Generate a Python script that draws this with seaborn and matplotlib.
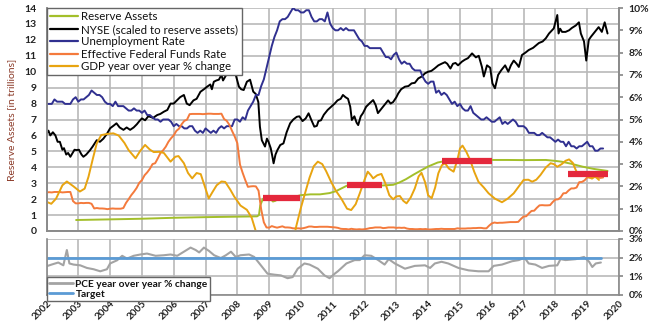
import numpy as np
import pandas as pd
import matplotlib
matplotlib.use("Agg")
import matplotlib.pyplot as plt
from matplotlib.lines import Line2D
import seaborn as sns

# ---------------- data ----------------
year_ticks = list(range(2002, 2021))

# monthly series, Jan 2002 onward
unemployment_pct = [
    5.7, 5.7, 5.7, 5.9, 5.8, 5.8, 5.8, 5.7, 5.7, 5.7, 5.9, 6.0,
    5.8, 5.9, 5.9, 6.0, 6.1, 6.3, 6.2, 6.1, 6.1, 6.0, 5.8, 5.7,
    5.7, 5.6, 5.8, 5.6, 5.6, 5.6, 5.5, 5.4, 5.4, 5.5, 5.4, 5.4,
    5.3, 5.4, 5.2, 5.2, 5.1, 5.0, 5.0, 4.9, 5.0, 5.0, 5.0, 4.9,
    4.7, 4.8, 4.7, 4.7, 4.6, 4.6, 4.7, 4.7, 4.5, 4.4, 4.5, 4.4,
    4.6, 4.5, 4.4, 4.5, 4.4, 4.6, 4.7, 4.6, 4.7, 4.7, 4.7, 5.0,
    5.0, 4.9, 5.1, 5.0, 5.4, 5.6, 5.8, 6.1, 6.1, 6.5, 6.8, 7.3,
    7.8, 8.3, 8.7, 9.0, 9.4, 9.5, 9.5, 9.6, 9.8, 10.0, 9.9, 9.9,
    9.8, 9.8, 9.9, 9.9, 9.6, 9.4, 9.4, 9.5, 9.5, 9.4, 9.8, 9.3,
    9.1, 9.0, 9.0, 9.1, 9.0, 9.1, 9.0, 9.0, 9.0, 8.8, 8.6, 8.5,
    8.3, 8.3, 8.2, 8.2, 8.2, 8.2, 8.2, 8.0, 7.8, 7.8, 7.7, 7.9,
    8.0, 7.7, 7.5, 7.6, 7.5, 7.5, 7.3, 7.2, 7.2, 7.2, 6.9, 6.7,
    6.6, 6.7, 6.7, 6.2, 6.3, 6.1, 6.2, 6.1, 5.9, 5.7, 5.8, 5.6,
    5.7, 5.5, 5.4, 5.4, 5.6, 5.3, 5.2, 5.1, 5.0, 5.0, 5.1, 5.0,
    4.9, 4.9, 5.0, 5.1, 4.8, 4.9, 4.8, 4.9, 5.0, 4.9, 4.7, 4.7,
    4.7, 4.6, 4.4, 4.4, 4.4, 4.3, 4.3, 4.4, 4.3, 4.2, 4.2, 4.1,
    4.0, 4.1, 4.0, 4.0, 3.8, 4.0, 3.8, 3.8, 3.7, 3.8, 3.8, 3.9,
    4.0, 3.8, 3.8, 3.6, 3.6, 3.7, 3.7,
]

fed_funds_pct = [
    1.73, 1.74, 1.73, 1.75, 1.75, 1.75, 1.73, 1.74, 1.75, 1.75, 1.34, 1.24,
    1.24, 1.26, 1.25, 1.26, 1.26, 1.22, 1.01, 1.03, 1.01, 1.01, 1.00, 0.98,
    1.00, 1.01, 1.00, 1.00, 1.00, 1.03, 1.26, 1.43, 1.61, 1.76, 1.93, 2.16,
    2.28, 2.50, 2.63, 2.79, 3.00, 3.04, 3.26, 3.50, 3.62, 3.78, 4.00, 4.16,
    4.29, 4.49, 4.59, 4.79, 4.94, 4.99, 5.24, 5.25, 5.25, 5.25, 5.25, 5.24,
    5.25, 5.26, 5.26, 5.25, 5.25, 5.25, 5.26, 5.02, 4.94, 4.76, 4.49, 4.24,
    3.94, 2.98, 2.61, 2.28, 1.98, 2.00, 2.01, 2.00, 1.81, 0.97, 0.39, 0.16,
    0.15, 0.22, 0.18, 0.15, 0.18, 0.21, 0.16, 0.16, 0.15, 0.12, 0.12, 0.12,
    0.11, 0.13, 0.16, 0.20, 0.20, 0.18, 0.18, 0.19, 0.19, 0.19, 0.19, 0.18,
    0.17, 0.16, 0.14, 0.10, 0.09, 0.09, 0.07, 0.10, 0.08, 0.07, 0.08, 0.07,
    0.08, 0.10, 0.13, 0.14, 0.16, 0.16, 0.16, 0.13, 0.14, 0.16, 0.16, 0.16,
    0.14, 0.15, 0.14, 0.15, 0.11, 0.09, 0.09, 0.08, 0.08, 0.09, 0.08, 0.09,
    0.07, 0.07, 0.08, 0.09, 0.09, 0.10, 0.09, 0.09, 0.09, 0.09, 0.09, 0.12,
    0.11, 0.11, 0.11, 0.12, 0.12, 0.13, 0.13, 0.14, 0.14, 0.12, 0.12, 0.24,
    0.34, 0.38, 0.36, 0.37, 0.37, 0.38, 0.39, 0.40, 0.40, 0.40, 0.41, 0.54,
    0.65, 0.66, 0.79, 0.90, 0.91, 1.04, 1.15, 1.16, 1.15, 1.15, 1.16, 1.30,
    1.41, 1.42, 1.51, 1.69, 1.70, 1.82, 1.91, 1.91, 1.95, 2.19, 2.20, 2.27,
    2.40, 2.40, 2.41, 2.42, 2.39, 2.38, 2.40,
]

reserve_years = [2002.93, 2004.0, 2005.0, 2006.0, 2007.0, 2008.0, 2008.62, 2008.68,
                 2008.72, 2008.8, 2008.9, 2008.97, 2009.05, 2009.12, 2009.2, 2009.3,
                 2009.45, 2009.6, 2009.8, 2010.0, 2010.3, 2010.6, 2010.9, 2011.1,
                 2011.3, 2011.45, 2011.7, 2012.0, 2012.5, 2012.9, 2013.1, 2013.3,
                 2013.55, 2013.8, 2014.0, 2014.3, 2014.6, 2014.9, 2015.5, 2016.0,
                 2016.5, 2017.0, 2017.7, 2018.0, 2018.2, 2018.5, 2018.85, 2019.2, 2019.64]
reserve_tn = [0.69, 0.73, 0.77, 0.83, 0.87, 0.90, 0.92, 1.0,
              1.6, 2.0, 2.2, 2.2, 2.0, 1.85, 1.9, 2.05,
              2.05, 2.1, 2.15, 2.25, 2.3, 2.3, 2.38, 2.5,
              2.7, 2.85, 2.85, 2.9, 2.85, 2.9, 3.05, 3.25,
              3.55, 3.83, 4.05, 4.3, 4.42, 4.47, 4.47, 4.46,
              4.46, 4.45, 4.46, 4.4, 4.35, 4.22, 4.04, 3.9, 3.77]

nyse_years = [
    2002.0, 2002.06, 2002.12, 2002.2, 2002.28, 2002.35, 2002.42, 2002.5, 2002.55, 2002.62,
    2002.68, 2002.75, 2002.82, 2002.88, 2002.95, 2003.02, 2003.1, 2003.16, 2003.25, 2003.37,
    2003.45, 2003.58, 2003.68, 2003.79, 2003.9, 2004.0, 2004.1, 2004.2, 2004.3, 2004.42,
    2004.52, 2004.63, 2004.74, 2004.84, 2004.92, 2005.0, 2005.1, 2005.2, 2005.26, 2005.35,
    2005.48, 2005.58, 2005.69, 2005.8, 2005.9, 2006.0, 2006.11, 2006.2, 2006.32, 2006.41,
    2006.5, 2006.62, 2006.72, 2006.84, 2006.95, 2007.05, 2007.15, 2007.2, 2007.26, 2007.34,
    2007.42, 2007.5, 2007.55, 2007.62, 2007.68, 2007.75, 2007.82, 2007.88, 2007.95, 2008.05,
    2008.12, 2008.2, 2008.3, 2008.4, 2008.5, 2008.58, 2008.66, 2008.71, 2008.77, 2008.82,
    2008.87, 2008.93, 2008.98, 2009.05, 2009.1, 2009.14, 2009.2, 2009.26, 2009.35, 2009.45,
    2009.55, 2009.66, 2009.76, 2009.87, 2009.95, 2010.05, 2010.15, 2010.24, 2010.32, 2010.42,
    2010.5, 2010.55, 2010.63, 2010.72, 2010.84, 2010.95, 2011.06, 2011.15, 2011.25, 2011.32,
    2011.4, 2011.48, 2011.55, 2011.6, 2011.68, 2011.75, 2011.8, 2011.88, 2011.95, 2012.05,
    2012.15, 2012.27, 2012.35, 2012.42, 2012.5, 2012.58, 2012.66, 2012.74, 2012.82, 2012.9,
    2013.0, 2013.06, 2013.15, 2013.27, 2013.38, 2013.48, 2013.58, 2013.69, 2013.8, 2013.9,
    2014.0, 2014.1, 2014.2, 2014.32, 2014.42, 2014.53, 2014.6, 2014.7, 2014.78, 2014.86,
    2014.94, 2015.06, 2015.15, 2015.25, 2015.38, 2015.5, 2015.59, 2015.69, 2015.75, 2015.85,
    2015.95, 2016.02, 2016.1, 2016.2, 2016.3, 2016.42, 2016.52, 2016.6, 2016.69, 2016.78,
    2016.85, 2016.95, 2017.06, 2017.16, 2017.3, 2017.48, 2017.6, 2017.7, 2017.8, 2017.95,
    2018.06, 2018.1, 2018.15, 2018.21, 2018.32, 2018.43, 2018.52, 2018.64, 2018.74, 2018.8,
    2018.86, 2018.9, 2018.97, 2019.05, 2019.12, 2019.2, 2019.28, 2019.36, 2019.46, 2019.55,
    2019.6, 2019.64,
]
nyse_tn = [
    6.1, 6.3, 6.0, 6.2, 6.0, 5.6, 5.6, 5.1, 5.2, 4.8,
    4.9, 4.66, 4.9, 5.1, 5.08, 5.1, 4.8, 4.66, 4.8, 5.08,
    5.3, 5.7, 5.6, 5.8, 6.1, 6.45, 6.6, 6.76, 6.5, 6.35,
    6.5, 6.35, 6.5, 6.7, 6.9, 7.07, 6.95, 7.2, 7.17, 7.1,
    7.28, 7.35, 7.49, 7.6, 8.0, 8.0, 8.22, 8.4, 8.54, 8.0,
    7.9, 8.2, 8.3, 8.74, 8.9, 9.06, 9.2, 8.9, 9.37, 9.45,
    9.5, 9.8, 9.45, 9.69, 9.9, 9.8, 10.3, 9.95, 9.8, 9.06,
    8.9, 8.85, 9.37, 9.5, 8.75, 8.6, 8.1, 6.55, 5.7, 5.5,
    5.3, 5.8, 5.6, 5.2, 4.7, 4.25, 4.8, 5.08, 5.4, 5.5,
    6.2, 6.76, 7.0, 7.17, 7.2, 6.9, 7.07, 7.39, 7.0, 6.55,
    6.6, 6.9, 6.95, 7.3, 7.6, 7.8, 8.0, 8.2, 8.3, 8.54,
    8.4, 8.3, 7.8, 6.97, 7.2, 6.8, 6.65, 7.2, 7.4, 7.8,
    8.0, 8.22, 7.9, 7.4, 7.6, 7.8, 8.0, 8.2, 8.0, 8.1,
    8.4, 8.64, 8.9, 9.06, 9.1, 9.27, 9.3, 9.58, 9.7, 9.9,
    10.0, 10.05, 10.2, 10.4, 10.5, 10.6, 10.5, 10.2, 10.5, 10.55,
    10.4, 10.63, 10.75, 10.85, 11.15, 10.9, 11.0, 10.3, 9.7, 10.4,
    10.25, 9.27, 8.96, 9.8, 10.1, 10.4, 10.0, 10.4, 10.7, 10.5,
    10.3, 11.05, 11.2, 11.36, 11.5, 11.8, 11.9, 12.1, 12.4, 12.72,
    13.56, 12.4, 12.7, 12.5, 12.5, 12.6, 12.75, 12.9, 13.1, 12.4,
    12.1, 11.9, 10.7, 12.0, 12.2, 12.4, 12.6, 12.8, 12.5, 13.1,
    12.7, 12.4,
]

gdp_years = [
    2002.0, 2002.15, 2002.3, 2002.5, 2002.64, 2002.85, 2003.05, 2003.2, 2003.32, 2003.45,
    2003.58, 2003.72, 2003.9, 2004.1, 2004.27, 2004.45, 2004.58, 2004.8, 2004.95, 2005.1,
    2005.25, 2005.37, 2005.55, 2005.69, 2005.9, 2006.05, 2006.15, 2006.32, 2006.45, 2006.58,
    2006.72, 2006.85, 2007.0, 2007.1, 2007.22, 2007.35, 2007.5, 2007.62, 2007.78, 2007.9,
    2008.1, 2008.3, 2008.45, 2008.6, 2008.8, 2009.0, 2009.3, 2009.55, 2009.75, 2009.85,
    2010.0, 2010.15, 2010.27, 2010.4, 2010.53, 2010.67, 2010.79, 2010.95, 2011.1, 2011.27,
    2011.45, 2011.58, 2011.72, 2011.85, 2012.0, 2012.1, 2012.2, 2012.27, 2012.4, 2012.53,
    2012.65, 2012.78, 2012.9, 2013.0, 2013.11, 2013.22, 2013.32, 2013.45, 2013.58, 2013.7,
    2013.79, 2013.9, 2014.0, 2014.11, 2014.22, 2014.32, 2014.43, 2014.53, 2014.65, 2014.8,
    2014.92, 2015.0, 2015.08, 2015.2, 2015.32, 2015.45, 2015.58, 2015.75, 2015.9, 2016.1,
    2016.32, 2016.5, 2016.69, 2016.85, 2017.0, 2017.15, 2017.27, 2017.4, 2017.53, 2017.7,
    2017.85, 2017.95, 2018.06, 2018.2, 2018.32, 2018.43, 2018.55, 2018.62, 2018.69, 2018.8,
    2019.0, 2019.15, 2019.25, 2019.37,
]
gdp_pct = [
    1.31, 1.22, 1.45, 2.05, 2.22, 2.0, 1.77, 1.9, 2.43, 3.2,
    3.93, 4.3, 4.35, 4.38, 4.28, 3.95, 3.63, 3.26, 3.6, 3.86,
    3.65, 3.54, 3.55, 3.5, 3.11, 3.33, 3.36, 3.04, 2.6, 2.36,
    2.6, 2.55, 1.9, 1.46, 1.75, 2.05, 2.22, 2.2, 1.85, 1.55,
    1.14, 0.95, 0.6, -0.1, -1.5, -3.0, -4.0, -3.2, -0.5, 0.2,
    1.05, 1.8, 2.39, 2.9, 3.11, 3.0, 2.69, 2.2, 1.8, 1.45,
    1.0, 0.94, 1.2, 1.69, 2.3, 2.66, 2.5, 2.36, 2.5, 2.56,
    2.15, 1.6, 1.42, 1.55, 1.57, 1.35, 1.24, 1.5, 1.91, 2.45,
    2.61, 2.2, 1.6, 1.47, 1.95, 2.59, 2.95, 3.04, 2.8, 2.66,
    3.2, 3.7, 3.83, 3.55, 3.18, 2.65, 2.21, 1.95, 1.69, 1.45,
    1.29, 1.45, 1.69, 2.0, 2.29, 2.3, 2.21, 2.3, 2.51, 2.85,
    3.04, 3.0, 2.88, 3.0, 3.15, 3.21, 3.05, 2.8, 2.59, 2.5,
    2.45, 2.35, 2.45, 2.29,
]

bar_start = [2008.8, 2011.46, 2014.42, 2018.4]
bar_end = [2009.97, 2012.55, 2016.0, 2019.64]
bar_pct = [1.47, 2.06, 3.14, 2.56]

pce_years = [
    2002.0, 2002.16, 2002.37, 2002.53, 2002.64, 2002.72, 2002.85, 2003.06, 2003.27, 2003.48,
    2003.69, 2003.9, 2004.0, 2004.22, 2004.38, 2004.53, 2004.74, 2004.95, 2005.16, 2005.43,
    2005.69, 2005.9, 2006.11, 2006.32, 2006.53, 2006.69, 2006.8, 2006.95, 2007.11, 2007.27,
    2007.48, 2007.64, 2007.8, 2007.95, 2008.1, 2008.37, 2008.53, 2008.74, 2008.95, 2009.16,
    2009.37, 2009.58, 2009.74, 2009.9, 2010.11, 2010.27, 2010.53, 2010.74, 2010.9, 2011.06,
    2011.16, 2011.43, 2011.69, 2011.85, 2012.0, 2012.21, 2012.43, 2012.63, 2012.76, 2012.95,
    2013.27, 2013.58, 2013.9, 2014.06, 2014.21, 2014.42, 2014.63, 2014.95, 2015.27, 2015.58,
    2015.9, 2016.06, 2016.32, 2016.64, 2016.85, 2017.03, 2017.16, 2017.37, 2017.58, 2017.8,
    2018.06, 2018.16, 2018.32, 2018.64, 2018.9, 2019.06, 2019.16, 2019.27, 2019.43,
]
pce_pct = [
    1.54, 1.63, 1.74, 1.59, 2.41, 1.69, 1.63, 1.59, 1.45, 1.38,
    1.27, 1.38, 1.69, 1.86, 2.1, 1.95, 2.1, 2.17, 2.22, 2.1,
    2.13, 2.17, 2.1, 2.32, 2.54, 2.41, 2.28, 2.54, 2.36, 2.13,
    1.98, 2.13, 2.32, 2.04, 2.13, 2.17, 2.04, 1.59, 1.14, 1.09,
    1.05, 0.9, 0.96, 1.41, 1.69, 1.63, 1.41, 1.05, 0.9, 1.14,
    1.27, 1.69, 1.87, 1.87, 2.13, 2.1, 1.87, 1.63, 1.92, 1.69,
    1.41, 1.56, 1.59, 1.45, 1.69, 1.78, 1.69, 1.45, 1.32, 1.27,
    1.27, 1.56, 1.63, 1.81, 1.87, 2.0, 1.69, 1.63, 1.45, 1.56,
    1.59, 1.92, 1.87, 1.92, 2.04, 1.78, 1.5, 1.69, 1.74,
]

target_years = [2002.0, 2019.43]
target_pct = [2.0, 2.0]

labels_top = ["Reserve Assets", "NYSE (scaled to reserve assets)", "Unemployment Rate",
              "Effective Federal Funds Rate", "GDP year over year % change"]
labels_bottom = ["PCE year over year % change", "Target"]

# ---------------- style ----------------
GREEN = "#a3bf2a"
BLACK = "#000000"
NAVY = "#303090"
ORANGE = "#f47a3c"
GOLD = "#e8a410"
RED = "#e4283c"
GREY = "#a3a3a3"
BLUE = "#5b9bd5"
GRID = "#b9b9b9"
SPINE = "#8a8a8a"

sns.set_theme(style="white")
plt.rcParams['font.family'] = ['Lato', 'DejaVu Sans']

months = pd.date_range("2002-01-01", periods=len(unemployment_pct), freq="MS")
month_years = months.year + (months.month - 1) / 12.0
ff_months = pd.date_range("2002-01-01", periods=len(fed_funds_pct), freq="MS")
ff_years = ff_months.year + (ff_months.month - 1) / 12.0

W, H = 660, 325
fig = plt.figure(figsize=(W / 100, H / 100), dpi=100)
L, R = 46.5, 619
ax = fig.add_axes([L / W, 1 - 231 / H, (R - L) / W, (231 - 8) / H])
ax2 = ax.twinx()
axb = fig.add_axes([L / W, 1 - 295 / H, (R - L) / W, (295 - 239) / H])

# top panel – left axis
sns.lineplot(x=reserve_years, y=reserve_tn, ax=ax, color=GREEN, lw=1.4, sort=False)
sns.lineplot(x=nyse_years, y=nyse_tn, ax=ax, color=BLACK, lw=1.4, sort=False)
# top panel – right axis
sns.lineplot(x=month_years, y=unemployment_pct, ax=ax2, color=NAVY, lw=1.4, sort=False)
sns.lineplot(x=ff_years, y=fed_funds_pct, ax=ax2, color=ORANGE, lw=1.4, sort=False)
sns.lineplot(x=gdp_years, y=gdp_pct, ax=ax2, color=GOLD, lw=1.4, sort=False)
ax2.hlines(bar_pct, bar_start, bar_end, color=RED, lw=4.5, zorder=5)

for a in (ax, ax2, axb):
    a.set_xlim(2002, 2020)
ax.set_ylim(0, 14)
ax2.set_ylim(0, 10)

ax.set_xticks(year_ticks)
ax.set_yticks(range(0, 15))
ax.grid(True, color=GRID, lw=1.2)
ax.tick_params(axis='x', labelbottom=False, length=0)
ax.tick_params(axis='y', length=0, pad=7, labelsize=7.5, colors='#222222')
for t in ax.get_yticklabels():
    t.set_fontweight('bold')
ax.set_ylabel("Reserve Assets [in trillions]", color="#8b3a28", fontsize=7.5, labelpad=6)
ax.set_xlabel("")

ax2.set_yticks(range(0, 11))
ax2.set_yticklabels([f"{v}%" for v in range(0, 11)], fontweight='bold')
ax2.tick_params(axis='y', length=3, color=SPINE, pad=4, labelsize=7.5, colors='#222222')
ax2.grid(False)
ax2.set_ylabel("")

for a in (ax, ax2):
    for s in a.spines.values():
        s.set_color(SPINE)
        s.set_linewidth(1.2)
    a.spines['top'].set_visible(False)

handles = [Line2D([], [], color=c, lw=1.6) for c in (GREEN, BLACK, NAVY, ORANGE, GOLD)]
leg = ax2.legend(handles, labels_top, loc='upper left', bbox_to_anchor=(0, 1),
                 borderaxespad=0, frameon=True, fancybox=False, edgecolor='#666666',
                 framealpha=1, fontsize=8.3, handlelength=2.4, handletextpad=0.3,
                 labelspacing=0.12, borderpad=0.3)
leg.get_frame().set_linewidth(1.0)
for t in leg.get_texts():
    t.set_color('#111111')

# bottom panel
sns.lineplot(x=pce_years, y=pce_pct, ax=axb, color=GREY, lw=1.5, sort=False)
sns.lineplot(x=target_years, y=target_pct, ax=axb, color=BLUE, lw=2.0, sort=False)
axb.set_ylim(0, 3)
axb.set_yticks([0, 1, 2, 3])
axb.yaxis.tick_right()
axb.set_yticklabels([f"{v}%" for v in range(4)], fontweight='bold')
axb.set_xticks(year_ticks)
axb.set_xticklabels([str(y) for y in year_ticks], rotation=45, ha='right',
                    rotation_mode='anchor', fontweight='bold')
axb.tick_params(axis='x', length=0, pad=3, labelsize=7.2, colors='#222222')
axb.tick_params(axis='y', length=3, color=SPINE, pad=4, labelsize=7.5, colors='#222222')
axb.grid(True, color=GRID, lw=1.2)
axb.set_xlabel("")
axb.set_ylabel("")
for s in axb.spines.values():
    s.set_color(SPINE)
    s.set_linewidth(1.2)
axb.spines['top'].set_visible(False)

hb = [Line2D([], [], color=GREY, lw=2), Line2D([], [], color=BLUE, lw=2)]
legb = axb.legend(hb, labels_bottom, loc='upper left', bbox_to_anchor=(0, (295 - 277) / 56),
                  borderaxespad=0, frameon=True, fancybox=False, edgecolor='#666666',
                  framealpha=1, fontsize=7.3, handlelength=2.4, handletextpad=0.2,
                  labelspacing=0.1, borderpad=0.25)
legb.get_frame().set_linewidth(1.0)
legb.set_clip_on(False)
for t in legb.get_texts():
    t.set_fontweight('bold')
    t.set_color('#111111')

fig.savefig("out.png", dpi=100)
